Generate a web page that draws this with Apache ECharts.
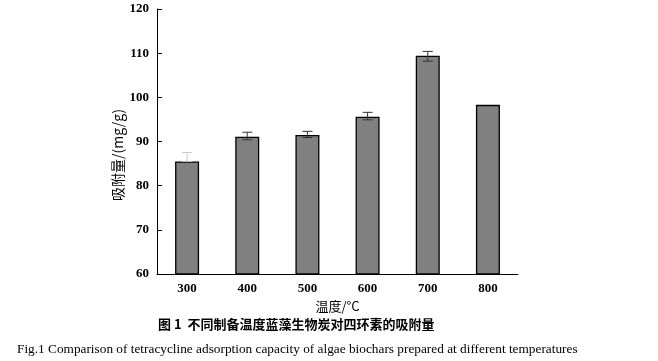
<!DOCTYPE html>
<html><head><meta charset="utf-8">
<script src="https://cdn.jsdelivr.net/npm/echarts@6/dist/echarts.min.js"></script>
<style>html,body{margin:0;padding:0;background:#fff}#c{width:658px;height:361px}</style>
</head><body><div id="c"></div>
<script>
const categories = ['300','400','500','600','700','800'];
const values = [85.5, 91.1, 91.5, 95.6, 109.4, 98.3];
const errLow = [85.5, 90.4, 90.9, 94.9, 108.2, 98.3];
const errHigh = [87.5, 92.1, 92.3, 96.6, 110.4, 98.3];
const errColors = ['#c8c8c8', '#333', '#333', '#333', '#333', '#333'];
const yTicks = [60, 70, 80, 90, 100, 110, 120];

const serif = '"Liberation Serif","Times New Roman",serif';
const cjk = '"Noto Sans CJK SC","Noto Sans CJK JP",sans-serif';
const chart = echarts.init(document.getElementById('c'));
chart.setOption({
  animation: false,
  backgroundColor: '#fff',
  grid: {left: 157, right: 140, top: 9, bottom: 87},
  xAxis: {
    type: 'category', data: categories,
    axisLine: {lineStyle: {color: '#000', width: 1}},
    axisTick: {inside: true, length: 4, lineStyle: {color: '#000'}},
    axisLabel: {color: '#000', fontFamily: serif, fontWeight: 'bold', fontSize: 13, margin: 8},
    name: '温度/°C', nameLocation: 'middle', nameGap: 19,
    nameTextStyle: {color: '#000', fontFamily: cjk, fontSize: 13}
  },
  yAxis: {
    type: 'value', min: yTicks[0], max: yTicks[yTicks.length-1], interval: 10,
    splitLine: {show: false},
    axisLine: {show: true, lineStyle: {color: '#000', width: 1}},
    axisTick: {show: true, inside: true, length: 5, lineStyle: {color: '#000'}},
    axisLabel: {color: '#000', fontFamily: serif, fontWeight: 'bold', fontSize: 13, margin: 8}
  },
  series: [{
    type: 'bar', data: values, barWidth: 24,
    itemStyle: {color: '#808080', borderColor: '#000', borderWidth: 1.3}
  }, {
    type: 'custom',
    data: categories.map((c, i) => [i, errLow[i], errHigh[i]]),
    z: 10,
    renderItem: function (params, api) {
      const i = params.dataIndex;
      const x = api.value(0);
      const lo = api.coord([x, api.value(1)]);
      const hi = api.coord([x, api.value(2)]);
      if (Math.abs(hi[1] - lo[1]) < 0.5) return null;
      const w = 5;
      const st = {stroke: errColors[i], lineWidth: 1};
      return {type: 'group', children: [
        {type: 'line', shape: {x1: hi[0], y1: hi[1], x2: lo[0], y2: lo[1]}, style: st},
        {type: 'line', shape: {x1: hi[0]-w, y1: hi[1], x2: hi[0]+w, y2: hi[1]}, style: st},
        {type: 'line', shape: {x1: lo[0]-w, y1: lo[1], x2: lo[0]+w, y2: lo[1]}, style: st}
      ]};
    }
  }],
  graphic: [
    {type: 'text', x: 118, y: 155, rotation: Math.PI / 2,
     style: {text: '吸附量/(mg/g)', font: '14px ' + cjk, fill: '#000', align: 'center', verticalAlign: 'middle'}},
    {type: 'text', left: 158, top: 318, style: {text: '图 1  不同制备温度蓝藻生物炭对四环素的吸附量', font: 'bold 13px ' + cjk, fill: '#000'}},
    {type: 'text', left: 17, top: 343, style: {text: 'Fig.1 Comparison of tetracycline adsorption capacity of algae biochars prepared at different temperatures', font: '13.3px ' + serif, fill: '#000'}}
  ]
});
</script></body></html>
